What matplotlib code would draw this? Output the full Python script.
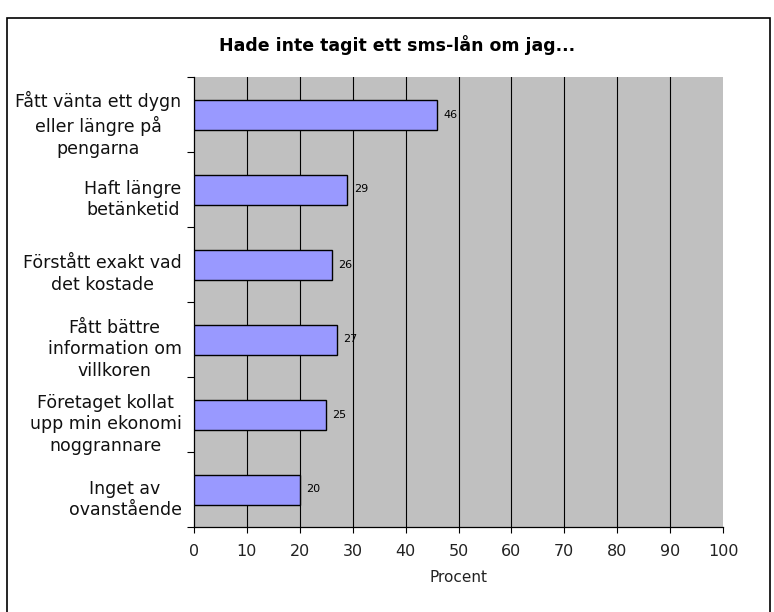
import numpy as np
import matplotlib.pyplot as plt
from matplotlib.patches import Rectangle
from matplotlib.transforms import ScaledTranslation

# data
kategorier = ['Fått vänta ett dygn\neller längre på\npengarna',
              'Haft längre\nbetänketid',
              'Förstått exakt vad\ndet kostade',
              'Fått bättre\ninformation om\nvillkoren',
              'Företaget kollat\nupp min ekonomi\nnoggrannare',
              'Inget av\novanstående']
procent = [46, 29, 26, 27, 25, 20]
xticks = [0, 10, 20, 30, 40, 50, 60, 70, 80, 90, 100]

plt.rcParams['font.family'] = ['DejaVu Sans']

fig = plt.figure(figsize=(7.74, 6.12), dpi=100)
fig.patch.set_facecolor('white')

# ramka runt diagrammet
fig.patches.append(Rectangle((7 / 774, -0.05), (770 - 7) / 774, 1.05 - 18 / 612,
                             transform=fig.transFigure, fill=False,
                             edgecolor='black', linewidth=1.2))

ax = fig.add_axes([194 / 774, 1 - 527 / 612, (723 - 194) / 774, 450 / 612])
ax.set_facecolor('#C0C0C0')

y = np.arange(len(kategorier))
ax.barh(y, procent, height=0.4, color='#9999FF', edgecolor='black', linewidth=1.0, zorder=3)
for yi, v in zip(y, procent):
    ax.annotate(str(v), (v, yi), xytext=(4.5, 0), textcoords='offset points',
                va='center', ha='left', fontsize=8, zorder=4)

ax.set_xlim(0, 100)
ax.set_ylim(len(kategorier) - 0.5, -0.5)
for xv in xticks[1:-1]:
    ax.axvline(xv, color='black', linewidth=0.8, zorder=1)

ax.set_xticks(xticks)
ax.set_xticklabels([str(t) for t in xticks], fontsize=11.5, color='#222222')
ax.tick_params(axis='x', direction='out', length=4, width=0.8, pad=8)

ax.set_yticks(np.arange(len(kategorier) + 1) - 0.5)
ax.set_yticklabels([])
ax.set_yticks(y, minor=True)
ax.set_yticklabels(kategorier, minor=True, fontsize=12.5, ha='right',
                   multialignment='center', linespacing=1.28, color='#111111')
ax.tick_params(axis='y', which='major', direction='out', length=5, width=0.8)
ax.tick_params(axis='y', which='minor', length=0, pad=9)
# etykiety lekko w dol
for lab in ax.get_yticklabels(minor=True):
    lab.set_transform(lab.get_transform() + ScaledTranslation(0, -6 / 100, fig.dpi_scale_trans))

for s in ['top', 'right']:
    ax.spines[s].set_visible(False)
ax.spines['left'].set_linewidth(0.9)
ax.spines['bottom'].set_linewidth(0.9)

ax.set_xlabel('Procent', fontsize=11, labelpad=8, color='#222222')
fig.text(397 / 774, 1 - 45 / 612, 'Hade inte tagit ett sms-lån om jag...',
         ha='center', va='center', fontsize=12.5, fontweight='bold')

plt.savefig('out.png', dpi=100)
